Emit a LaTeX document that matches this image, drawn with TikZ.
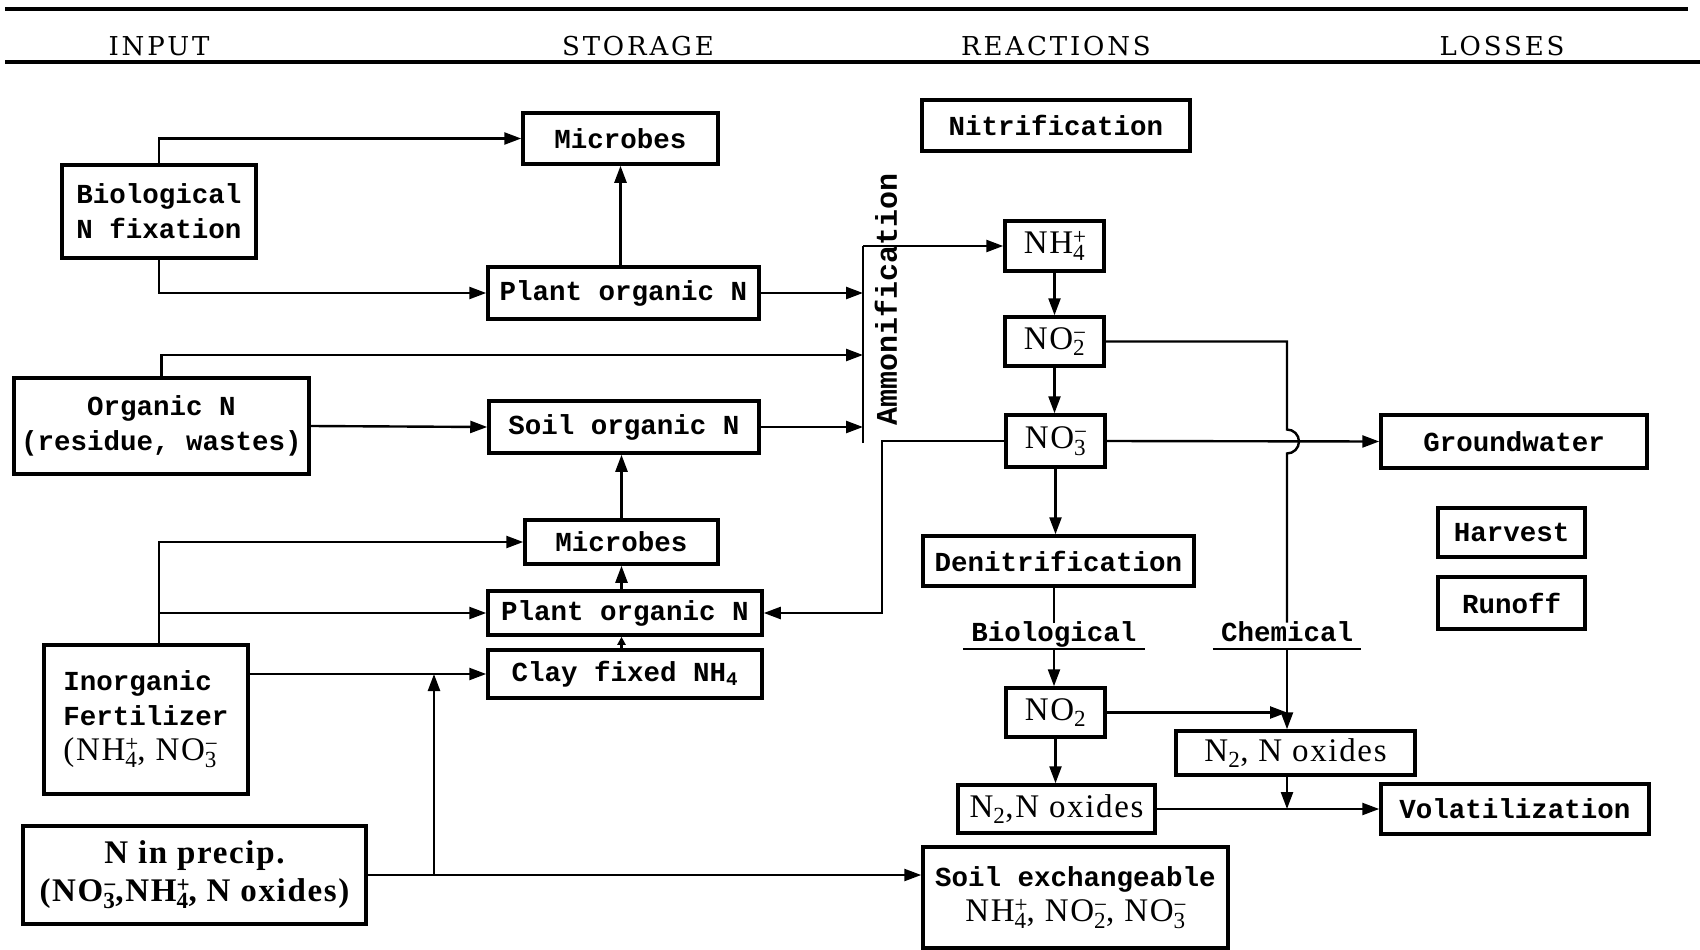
\documentclass[tikz,border=0pt]{standalone}
\usepackage{fontspec}
\setmainfont{Liberation Serif}
\newfontfamily\bxf{Liberation Mono}
\newfontfamily\chf[LetterSpace=5]{Liberation Serif}
\newfontfamily\hdf[LetterSpace=11]{DejaVu Serif}
\usetikzlibrary{arrows.meta}
\newcommand{\ion}[3]{#1\rlap{\textsuperscript{#3}}\textsubscript{#2}}
\newcommand{\chm}{\chf\mdseries\fontsize{33}{36}\selectfont}
\begin{document}
\begin{tikzpicture}[x=1pt,y=-1pt,
  box/.style={draw, line width=3.5pt, inner sep=0pt, align=center},
  bsize/.style 2 args={minimum width=#1pt, minimum height=#2pt},
  bt/.style={font=\bxf\bfseries\fontsize{27.5}{35}\selectfont},
  ct/.style={font=\chf\fontsize{33}{36}\selectfont},
  cbt/.style={font=\chf\bfseries\fontsize{33}{38}\selectfont},
  conn/.style={line width=2.4pt},
  arr/.style={conn, -{Triangle[length=17pt,width=12pt]}},
  hd/.style={font=\hdf\fontsize{26}{30}\selectfont},
  rule/.style={line width=3.5pt},
  lab/.style={bt, inner xsep=8pt, inner ysep=0pt, text height=19pt, text depth=7pt, anchor=south}]
\useasboundingbox (0,0) rectangle (1700,950);
% header
\draw[rule] (5,9) -- (1688,9);
\draw[rule] (5,62) -- (1700,62);
\node[hd] (hin) at (159,46) {INPUT};
\node[hd] (hst) at (638,46) {STORAGE};
\node[hd] (hre) at (1056,46) {REACTIONS};
\node[hd] (hlo) at (1502,46) {LOSSES};
% boxes
\node[box,bt,bsize={195}{51}] (mic1) at (620.5,138.5) {Microbes};
\node[box,bt,bsize={194}{93}] (bnf) at (159,211.5) {Biological\\N fixation};
\node[box,bt,bsize={271}{52}] (pon1) at (623.5,293) {Plant organic N};
\node[box,bt,bsize={268}{51}] (nitr) at (1056,125.5) {Nitrification};
\node[box,ct,bsize={99}{50}] (nh4) at (1054.5,246) {\ion{NH}{4}{+}};
\node[box,ct,bsize={99}{49}] (no2m) at (1054.5,341.5) {\ion{NO}{2}{−}};
\node[box,ct,bsize={99}{52}] (no3m) at (1055.5,441) {\ion{NO}{3}{−}};
\node[box,bt,bsize={295}{96}] (orgn) at (161.5,426) {Organic N\\(residue, wastes)};
\node[box,bt,bsize={270}{52}] (son) at (624,427) {Soil organic N};
\node[box,bt,bsize={266}{53}] (gw) at (1514,441.5) {Groundwater};
\node[box,bt,bsize={193}{44}] (mic2) at (621.5,542) {Microbes};
\node[box,bt,bsize={271}{50}] (denit) at (1058.5,561) {Denitrification};
\node[box,bt,bsize={147}{49}] (harv) at (1511.5,532.5) {Harvest};
\node[box,bt,bsize={147}{52}] (run) at (1511.5,603) {Runoff};
\node[box,bt,bsize={274}{44}] (pon2) at (625,613) {Plant organic N};
\node[box,bt,bsize={274}{48}] (clay) at (625,674) {Clay fixed NH\textsubscript{4}};
\node[box,bt,bsize={204}{149},align=left] (fert) at (146,719.5) {Inorganic\\Fertilizer\\{\chm(\ion{NH}{4}{+}, \ion{NO}{3}{−}}};
\node[box,ct,bsize={99}{49}] (no2b) at (1055.5,712.5) {NO\textsubscript{2}};
\node[box,ct,bsize={239}{44}] (n2c) at (1295.5,753) {N\textsubscript{2}, N oxides};
\node[box,ct,bsize={197}{48}] (n2b) at (1056.5,809) {N\textsubscript{2},N oxides};
\node[box,bt,bsize={268}{50}] (vol) at (1515,809) {Volatilization};
\node[box,cbt,bsize={343}{98}] (prec) at (194.5,875) {N in precip.\\(\ion{NO}{3}{−},\ion{NH}{4}{+}, N oxides)};
\node[box,bt,bsize={305}{101}] (sx) at (1075.5,897.5) {Soil exchangeable\\{\chm \ion{NH}{4}{+}, \ion{NO}{2}{−}, \ion{NO}{3}{−}}};
% labels
\node[bt,rotate=90,font=\bxf\bfseries\fontsize{30}{35}\selectfont] (amm) at (886,299) {Ammonification};
\node[lab] (bio) at (1054,649) {Biological};
\node[lab] (chem) at (1287,649) {Chemical};
\draw[conn] (bio.south west) -- (bio.south east);
\draw[conn] (chem.south west) -- (chem.south east);
% ammonification bar
\coordinate (abt) at (863,246);
\coordinate (abb) at (863,443);
\coordinate (aor) at (863,355);
\coordinate (hopA) at (1287,429.5);
\coordinate (pj) at (434,875);
\draw[conn] (abb) -- (abt);
\draw[arr] (abt) -- (nh4.west);
% connectors
\draw[arr] (bnf.north) |- (mic1.west);
\draw[arr] (bnf.south) |- (pon1.west);
\draw[arr] (pon1.north -| mic1.south) -- (mic1.south);
\draw[arr] (pon1.east) -- (pon1.east -| abt);
\draw[arr] (orgn.north) |- (aor);
\draw[arr] (orgn.east) -- (son.west);
\draw[arr] (son.east) -- (son.east -| abt);
\draw[arr] (nh4.south) -- (no2m.north);
\draw[arr] (no2m.south) -- (no2m.south |- no3m.north);
\draw[arr] (no3m.west) -- ++(-122,0) |- (pon2.east);
\draw[arr] (no3m.east) -- (gw.west);
\draw[arr] (no3m.south) -- (no3m.south |- denit.north);
\draw[conn] (no2m.east) -| (hopA) arc[start angle=90,end angle=-90,radius=12pt] -- (chem.north);
\draw[conn] (bio.north |- denit.south) -- (bio.north);
\draw[arr] (bio.south) -- (bio.south |- no2b.north);
\draw[arr] (no2b.east) -- (no2b.east -| chem.south);
\draw[arr] (chem.south) -- (chem.south |- n2c.north);
\draw[arr] (n2c.south -| chem.south) -- (chem.south |- vol.west);
\draw[arr] (n2b.east) -- (vol.west);
\draw[arr] (no2b.south) -- (no2b.south |- n2b.north);
\draw[arr] (fert.north -| bnf.south) |- (mic2.west);
\draw[arr] (fert.north -| bnf.south) |- (pon2.west);
\draw[arr] (fert.north east |- clay.west) -- (clay.west);
\draw[arr] (prec.east) -- (prec.east -| sx.west);
\draw[arr] (pj) -- (pj |- clay.west);
\draw[arr] (pon2.north -| mic2.south) -- (mic2.south);
\draw[conn,-{Triangle[length=8pt,width=8pt]}] (clay.north -| mic2.south) -- (pon2.south -| mic2.south);
\draw[arr] (mic2.north) -- (mic2.north |- son.south);
\end{tikzpicture}
\end{document}
